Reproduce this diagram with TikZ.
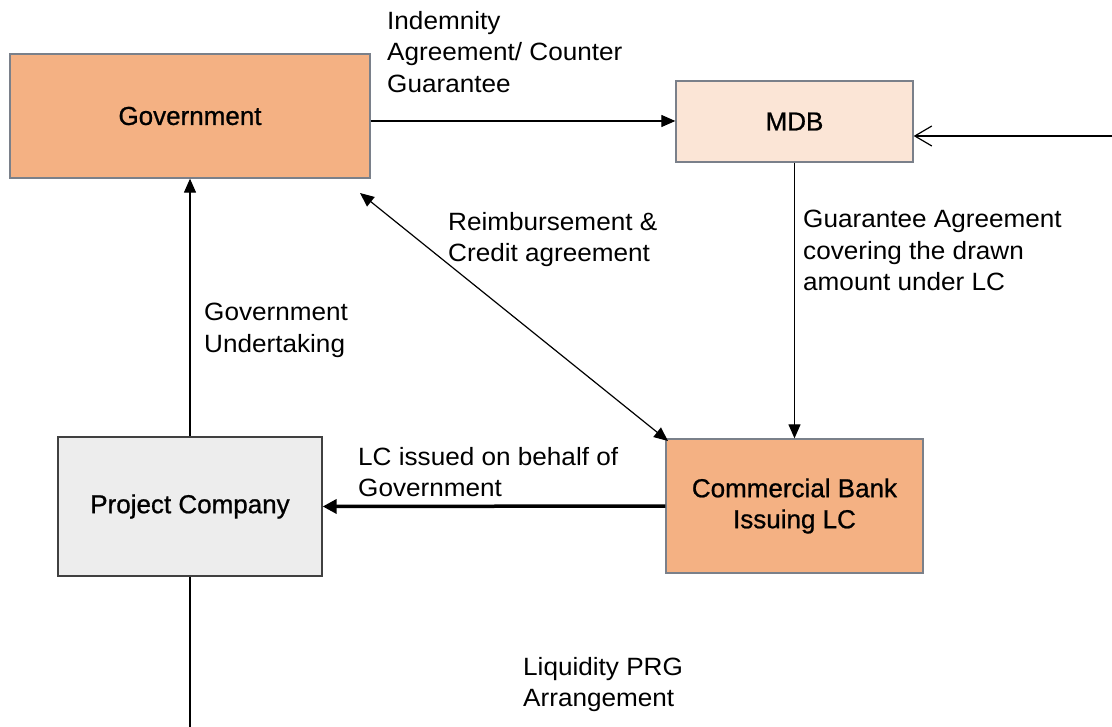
\documentclass[tikz,border=0pt]{standalone}
\usepackage{fontspec}
\setmainfont{Liberation Sans}
\newfontfamily\boxfont[FakeBold=0.8]{Liberation Sans}
\newfontfamily\lblfont[FakeStretch=1.045]{Liberation Sans}
\usetikzlibrary{arrows.meta}
\definecolor{orangefill}{HTML}{F4B183}
\definecolor{peachfill}{HTML}{FBE5D6}
\definecolor{greyfill}{HTML}{EDEDED}
\definecolor{boxline}{HTML}{7A808A}
\begin{document}
\begin{tikzpicture}[x=1pt,y=-1pt,
  box/.style={rectangle,draw=boxline,line width=1.3pt,inner sep=0pt,align=center,
    font=\boxfont\fontsize{26}{31}\selectfont},
  lbl/.style={anchor=north west,inner sep=0pt,align=left,
    font=\lblfont\fontsize{25}{31.5}\selectfont},
  conn/.style={line width=1.2pt},
  tip/.style={-{Triangle[length=14pt,width=12pt]}},
  bitip/.style={{Triangle[length=14pt,width=12pt]}-{Triangle[length=14pt,width=12pt]}},
  opentip/.style={-{Straight Barb[length=17pt,width=20pt,line width=1.2pt]}}]
\useasboundingbox (0,0) rectangle (1112,727);
% boxes
\node[box,fill=orangefill,minimum width=360pt,minimum height=124pt] (gov) at (190,116) {Government};
\node[box,fill=peachfill,minimum width=237pt,minimum height=81pt] (mdb) at (794.5,121.5) {MDB};
\node[box,fill=greyfill,draw=black!75,minimum width=264pt,minimum height=139pt] (proj) at (190,506.5) {Project Company};
\node[box,fill=orangefill,minimum width=257pt,minimum height=134pt] (cb) at (794.5,506) {Commercial Bank\\Issuing LC};
% free ends
\coordinate (rin) at (1112,136);
\coordinate (bot) at (190,727);
\coordinate (dgov) at (360,193);
\coordinate (dcb) at (668,441);
% connectors
\draw[conn,tip] (gov.east |- 0,121) -- (mdb.west |- 0,121);
\draw[conn,opentip] (rin) -- (rin -| mdb.east);
\draw[conn,tip] (mdb.south) -- (cb.north);
\draw[conn,tip] (proj.north) -- (gov.south);
\draw[conn,bitip] (dcb) -- (dgov);
\draw[line width=3.5pt,-{Triangle[length=14pt,width=14pt]}] (cb.west) -- (proj.east);
\draw[conn] (proj.south) -- (bot);
% labels
\node[lbl] (l1) at (387,11) {Indemnity\\Agreement/ Counter\\Guarantee};
\node[lbl] (l2) at (448,212) {Reimbursement \&\\Credit agreement};
\node[lbl] (l3) at (803,210) {Guarantee Agreement\\covering the drawn\\amount under LC};
\node[lbl] (l4) at (204,303) {Government\\Undertaking};
\node[lbl] (l5) at (358,447) {LC issued on behalf of\\Government};
\node[lbl] (l6) at (523,657) {Liquidity PRG\\Arrangement};
\end{tikzpicture}
\end{document}
